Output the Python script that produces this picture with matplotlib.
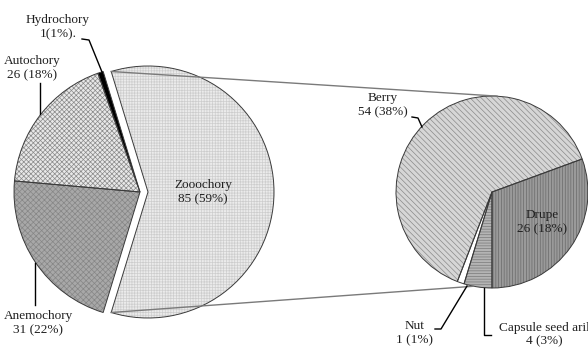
import numpy as np
import matplotlib.pyplot as plt

# seed dispersal modes (primary pie) and zoochorous fruit types (secondary pie)
primary_labels = ['Zooochory', 'Hydrochory', 'Autochory', 'Anemochory']
primary_values = [85, 1, 26, 31]
primary_text = ['Zooochory\n85 (59%)', 'Hydrochory\n1(1%).', 'Autochory\n26 (18%)',
                'Anemochory\n31 (22%)']

secondary_labels = ['Drupe', 'Berry', 'Nut', 'Capsule seed aril']
secondary_values = [26, 54, 1, 4]
secondary_text = ['Drupe\n26 (18%)', 'Berry\n54 (38%)', 'Nut\n1 (1%)',
                  'Capsule seed aril\n4 (3%)']

plt.rcParams['font.family'] = ['Liberation Serif', 'DejaVu Serif']
plt.rcParams['hatch.linewidth'] = 0.5

W, H = 588, 349
fig = plt.figure(figsize=(W / 100, H / 100), dpi=100)
ax = fig.add_axes([0, 0, 1, 1])


def py(y):
    # pixel row -> axis y
    return H - y


c1, r1 = (140, py(192)), 126
c2, r2 = (492, py(192)), 96

start1 = -180 * primary_values[0] / sum(primary_values)
explode1 = [8, 0, 0, 0]  # pie explode is in data units here

face1 = ['#ebebeb', '#000000', '#e8e8e8', '#a8a8a8']
hcol1 = ['#cdcdcd', '#000000', '#8a8a8a', '#868686']
hatch1 = ['++++++', None, 'xxxxxxx', 'xxxxxx']

face2 = ['#9a9a9a', '#d6d6d6', '#ffffff', '#b4b4b4']
hcol2 = ['#6a6a6a', '#8a8a8a', '#ffffff', '#7a7a7a']
hatch2 = ['||||||', '\\\\\\\\\\\\', None, '------']

# fill + hatch layer
w1, _ = ax.pie(primary_values, center=c1, radius=r1, startangle=start1,
               explode=explode1, colors=face1, wedgeprops=dict(linewidth=0))
for w, h, hc in zip(w1, hatch1, hcol1):
    if h:
        w.set_hatch(h)
        w.set_edgecolor(hc)
w2, _ = ax.pie(secondary_values, center=c2, radius=r2, startangle=-90,
               colors=face2, wedgeprops=dict(linewidth=0))
for w, h, hc in zip(w2, hatch2, hcol2):
    if h:
        w.set_hatch(h)
        w.set_edgecolor(hc)

# outlines
ax.pie(primary_values, center=c1, radius=r1, startangle=start1, explode=explode1,
       colors=['none'] * 4, wedgeprops=dict(linewidth=0.7, edgecolor='#3a3a3a'))
ax.pie(secondary_values, center=c2, radius=r2, startangle=-90,
       colors=['none'] * 4, wedgeprops=dict(linewidth=0.7, edgecolor='#3a3a3a'))

# connector lines between exploded slice and secondary pie
ex = explode1[0]
half = np.deg2rad(-start1)
a_top, a_bot = np.deg2rad(87), np.deg2rad(259)
p_top = (c1[0] + ex + r1 * np.cos(half), c1[1] + r1 * np.sin(half))
p_bot = (c1[0] + ex + r1 * np.cos(half), c1[1] - r1 * np.sin(half))
q_top = (c2[0] + r2 * np.cos(a_top), c2[1] + r2 * np.sin(a_top))
q_bot = (c2[0] + r2 * np.cos(a_bot), c2[1] + r2 * np.sin(a_bot))
ax.plot([p_top[0], q_top[0]], [p_top[1], q_top[1]], color='#7a7a7a', lw=1)
ax.plot([p_bot[0], q_bot[0]], [p_bot[1], q_bot[1]], color='#7a7a7a', lw=1)

# data labels
fs = 9.5
lab1_pos = [(203, 192), (58, 27), (32, 68), (38, 323)]
lab2_pos = [(542, 222), (383, 105), (415, 333), (544, 335)]
for t, (x, y) in zip(primary_text, lab1_pos):
    ax.text(x, py(y), t, ha='center', va='center', fontsize=fs,
            color='#202020', linespacing=1.3)
for t, (x, y) in zip(secondary_text, lab2_pos):
    ax.text(x, py(y), t, ha='center', va='center', fontsize=fs,
            color='#202020', linespacing=1.15 if t.startswith('Caps') else 1.3)

# leader lines
leaders = [
    [(82, 39), (89, 40), (102, 72)],
    [(40, 83), (40, 114)],
    [(35, 305), (35, 263)],
    [(412, 117), (418, 118), (422, 127)],
    [(435, 329), (441, 329), (467, 286)],
    [(491, 335), (484, 335), (484, 288)],
]
for pts in leaders:
    xs = [p[0] for p in pts]
    ys = [py(p[1]) for p in pts]
    ax.plot(xs, ys, color='#000000', lw=1)

ax.set_xlim(0, W)
ax.set_ylim(0, H)
ax.set_aspect('auto')
ax.axis('off')

fig.savefig('out.png', dpi=100)
